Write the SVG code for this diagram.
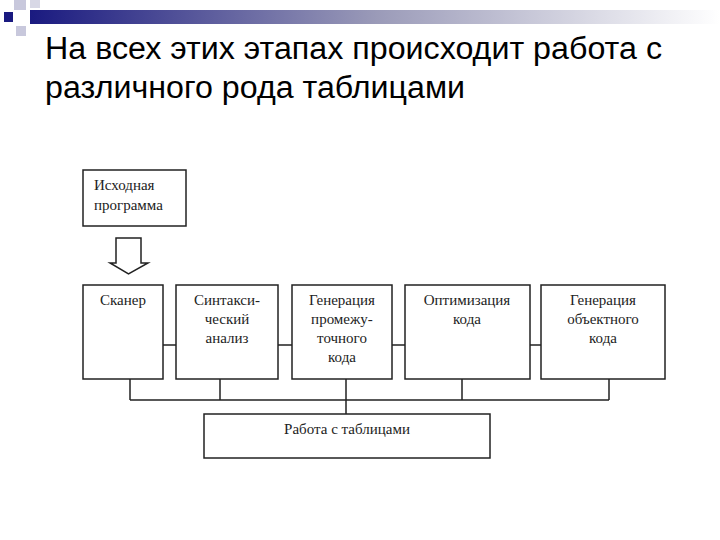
<svg xmlns="http://www.w3.org/2000/svg" width="720" height="540" viewBox="0 0 720 540">
<style>
.b{fill:#fff;stroke:#222;stroke-width:1.5}
.t{font-family:"Liberation Serif",serif;font-size:15px;fill:#222;text-anchor:middle}
.l{text-anchor:start}
.c{stroke:#222;stroke-width:1.5;fill:none}
</style>
<defs><linearGradient id="g" x1="0" x2="1"><stop offset="0" stop-color="#1a1a80"/><stop offset="0.5" stop-color="#9a9ab8"/><stop offset="1" stop-color="#fff"/></linearGradient></defs>
<rect width="720" height="540" fill="#fff"/>
<rect x="30" y="10" width="690" height="14" fill="url(#g)"/>
<rect x="14" y="0" width="12" height="10" fill="#c8c8dc"/>
<rect x="30" y="0" width="10" height="8" fill="#d8d8e6"/>
<rect x="4" y="12" width="9" height="10" fill="#1a1a80"/>
<rect x="16" y="26" width="10" height="10" fill="#c8c8dc"/>
<text font-family="Liberation Sans,sans-serif" font-size="31" fill="#000"><tspan x="45" y="59" textLength="617" lengthAdjust="spacingAndGlyphs">На всех этих этапах происходит работа с</tspan><tspan x="45" y="98" textLength="420" lengthAdjust="spacingAndGlyphs">различного рода таблицами</tspan></text>
<g id="src"><rect class="b" x="83" y="170" width="103" height="56"/><text class="t l" x="94" y="190">Исходная</text><text class="t l" x="94" y="210">программа</text></g>
<g id="connectors">
<path class="c" d="M116 238H141V263H148L128.5 274L110 263H116Z"/>
<path class="c" d="M163 345H176M278 345H292M392 345H405M530 345H541M130 379V400M220 379V400M346 379V414M462 379V400M609 379V400M130 400H609"/>
</g>
<g id="n1"><rect class="b" x="83" y="285" width="80" height="94"/><text class="t" x="123" y="305">Сканер</text></g>
<g id="n2"><rect class="b" x="176" y="285" width="102" height="94"/><text class="t" x="227" y="305">Синтакси-</text><text class="t" x="227" y="324">ческий</text><text class="t" x="227" y="343">анализ</text></g>
<g id="n3"><rect class="b" x="292" y="285" width="100" height="94"/><text class="t" x="342" y="305">Генерация</text><text class="t" x="342" y="324">промежу-</text><text class="t" x="342" y="343">точного</text><text class="t" x="342" y="362">кода</text></g>
<g id="n4"><rect class="b" x="405" y="285" width="125" height="94"/><text class="t" x="467" y="305">Оптимизация</text><text class="t" x="467" y="324">кода</text></g>
<g id="n5"><rect class="b" x="541" y="285" width="124" height="94"/><text class="t" x="603" y="305">Генерация</text><text class="t" x="603" y="324">объектного</text><text class="t" x="603" y="343">кода</text></g>
<g id="tab"><rect class="b" x="204" y="414" width="286" height="44"/><text class="t" x="347" y="434">Работа с таблицами</text></g>
</svg>
